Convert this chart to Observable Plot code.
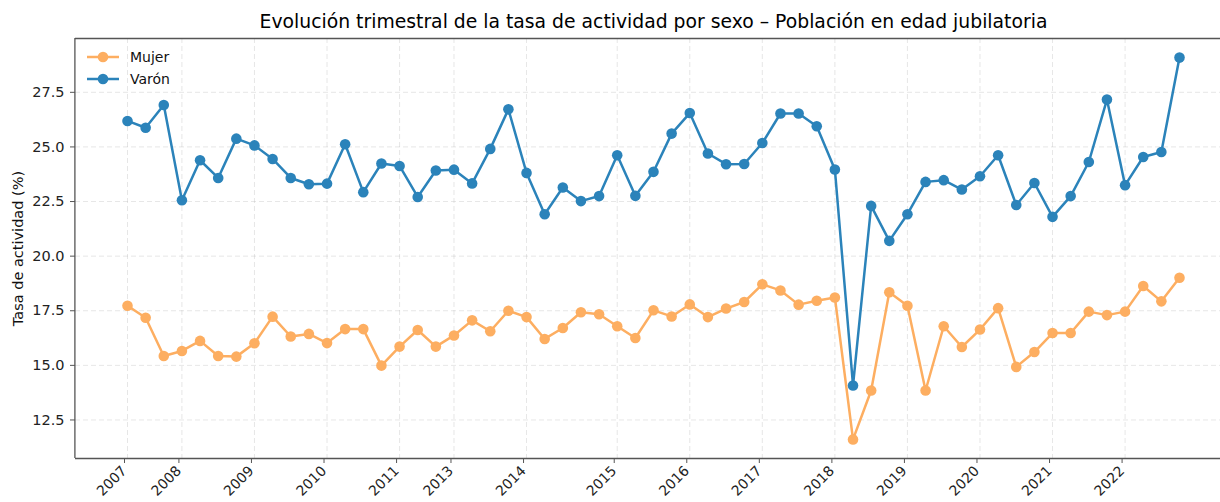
<!DOCTYPE html>
<html><head><meta charset="utf-8">
<script src="https://cdn.jsdelivr.net/npm/d3@7"></script>
<script src="https://cdn.jsdelivr.net/npm/@observablehq/plot@0.6"></script>
<style>
body{margin:0;background:#fff;font-family:"DejaVu Sans",sans-serif;}
#wrap{position:relative;width:1220px;height:502px;overflow:hidden;background:#fff;}
#title{position:absolute;left:0;top:13px;width:1307px;text-align:center;font-size:18.8px;line-height:1;color:#000;white-space:nowrap;z-index:2;}
#chart{position:absolute;left:0;top:30px;z-index:1;}
#legend{position:absolute;left:87px;top:46px;font-size:14px;color:#111;z-index:3;}
.row{display:flex;align-items:center;height:22px;}
.row svg{margin-right:11px;}
</style></head><body>
<div id="wrap">
  <div id="chart"></div>
  <div id="title">Evolución trimestral de la tasa de actividad por sexo – Población en edad jubilatoria</div>
  <div id="legend"></div>
</div>
<script>
// Series (one value per quarter, in plotted order)
const seriesNames = ["Mujer", "Varón"];
const seriesColors = ["#fdae61", "#2b83ba"];
const mujer = [17.73,17.18,15.43,15.66,16.12,15.43,15.40,16.01,17.23,16.32,
  16.44,16.02,16.66,16.66,14.99,15.86,16.62,15.86,16.37,17.06,
  16.56,17.50,17.21,16.21,16.71,17.43,17.34,16.79,16.25,17.52,
  17.24,17.79,17.21,17.60,17.90,18.71,18.43,17.78,17.96,18.11,
  11.61,13.85,18.35,17.73,13.85,16.79,15.84,16.64,17.62,14.93,
  15.61,16.48,16.48,17.46,17.30,17.46,18.63,17.93,19.01];
const varon = [26.19,25.88,26.92,22.56,24.39,23.58,25.38,25.07,24.45,23.58,
  23.29,23.32,25.12,22.93,24.24,24.13,22.71,23.92,23.96,23.33,
  24.91,26.72,23.81,21.92,23.14,22.52,22.75,24.62,22.76,23.86,
  25.61,26.55,24.70,24.21,24.22,25.18,26.53,26.53,25.95,23.97,
  14.08,22.30,20.70,21.92,23.40,23.48,23.05,23.66,24.62,22.34,
  23.35,21.80,22.75,24.31,27.17,23.25,24.54,24.77,29.09];
// X tick positions (observation index) and labels
const tickIndex = [0,3,7,11,15,18,22,27,31,35,39,43,47,51,55];
const tickLabels = ["2007","2008","2009","2010","2011","2013","2014","2015","2016","2017","2018","2019","2020","2021","2022"];
const yTicks = [12.5,15.0,17.5,20.0,22.5,25.0,27.5];
const yLabel = "Tasa de actividad (%)";

const values = [mujer, varon];
const data = [];
seriesNames.forEach((s, k) => values[k].forEach((v, i) => data.push({i, v, s})));
const labelMap = new Map(tickIndex.map((t, k) => [t, tickLabels[k]]));

const n = mujer.length;
const xPad = (n - 1) * 0.05;
const xDomain = [-xPad, n - 1 + xPad];
const allV = mujer.concat(varon);
const vMin = d3.min(allV), vMax = d3.max(allV);
const yPad = (vMax - vMin) * 0.05;
const yDomain = [vMin - yPad, vMax + yPad];

const gridStyle = {stroke: "#b0b0b0", strokeOpacity: 0.32, strokeDasharray: "5,3", strokeWidth: 1};
const spine = {stroke: "#555", strokeWidth: 1.3};

const seriesMarks = seriesNames.flatMap(s => {
  const d = data.filter(r => r.s === s);
  return [
    Plot.line(d, {x: "i", y: "v", stroke: "s", strokeWidth: 2.5}),
    Plot.dot(d, {x: "i", y: "v", fill: "s", r: 5.3})
  ];
});

const chart = Plot.plot({
  width: 1220, height: 472,
  marginLeft: 75, marginRight: 0, marginTop: 8, marginBottom: 44,
  style: {fontFamily: "DejaVu Sans", fontSize: "14px", background: "transparent", color: "#222", overflow: "visible"},
  x: {domain: xDomain, range: [74.4, 1231.6]},
  y: {domain: yDomain},
  color: {domain: seriesNames, range: seriesColors},
  marks: [
    Plot.gridX({ticks: tickIndex, ...gridStyle}),
    Plot.gridY({ticks: yTicks, ...gridStyle}),
    Plot.axisY({ticks: yTicks, tickFormat: d3.format(".1f"), tickSize: 5, tickPadding: 6, fontSize: 14.5, label: null, stroke: "#555"}),
    Plot.axisX({ticks: tickIndex, tickFormat: i => labelMap.get(i), tickRotate: -45, tickSize: 5, tickPadding: 5, dx: -3, fontSize: 14, label: null, stroke: "#555"}),
    ...seriesMarks,
    Plot.ruleX([xDomain[0]], spine),
    Plot.ruleY([yDomain[0], yDomain[1]], spine),
    Plot.text([yLabel], {text: d => d, frameAnchor: "left", textAnchor: "middle", rotate: -90, dx: -57, fontSize: 14.5, fill: "#111"})
  ]
});
document.getElementById("chart").appendChild(chart);

// Legend
const legend = document.getElementById("legend");
seriesNames.forEach((s, k) => {
  const row = document.createElement("div");
  row.className = "row";
  row.innerHTML = `<svg width="32" height="12"><line x1="0" x2="32" y1="6" y2="6" stroke="${seriesColors[k]}" stroke-width="2.5"/><circle cx="16" cy="6" r="5.3" fill="${seriesColors[k]}"/></svg><span>${s}</span>`;
  legend.appendChild(row);
});
</script>
</body></html>
